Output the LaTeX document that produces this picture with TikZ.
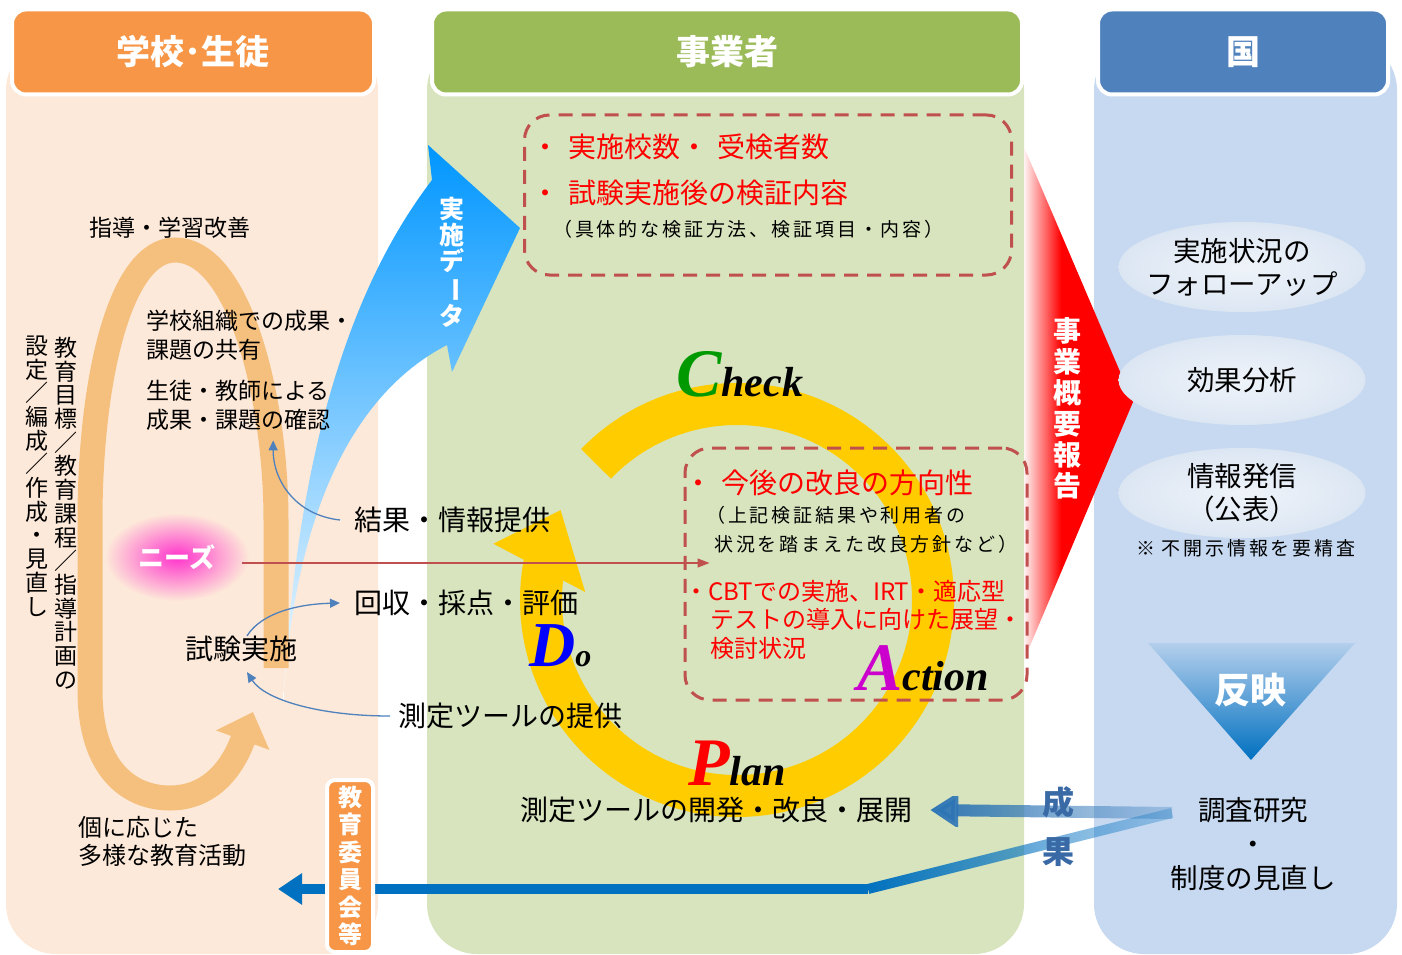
\documentclass[tikz,border=0pt]{standalone}
\usepackage{fontspec}
\setmainfont{Noto Sans CJK JP}
\newfontfamily\pdcafont{Liberation Serif}
\usetikzlibrary{arrows.meta, shapes.geometric, fadings}

\definecolor{colpeach}{HTML}{FDE9D9}
\definecolor{colgreen}{HTML}{D7E4BD}
\definecolor{colblue}{HTML}{C6D9F1}
\definecolor{hdrorange}{HTML}{F79646}
\definecolor{hdrgreen}{HTML}{9BBB59}
\definecolor{hdrblue}{HTML}{4F81BD}
\definecolor{dashred}{HTML}{C0504D}
\definecolor{cycleyellow}{HTML}{FFCC00}
\definecolor{bandorange}{HTML}{F5C07E}
\definecolor{datablue}{HTML}{0096FF}
\definecolor{linkblue}{HTML}{4F81BD}
\definecolor{seikablue}{HTML}{2E75B6}
\definecolor{kekkablue}{HTML}{0070C0}
\definecolor{seikatext}{HTML}{3A6AA6}
\definecolor{needspink}{HTML}{FF33CC}
\definecolor{ellfill}{HTML}{DCE6F3}
\definecolor{haneitop}{HTML}{B4CFEC}
\definecolor{checkgreen}{HTML}{009900}
\definecolor{doblue}{HTML}{0000FF}
\definecolor{actmagenta}{HTML}{CC00CC}

\newcommand{\fsz}[2]{\fontsize{#1}{#2}\selectfont}
\tikzfading[name=seikafade, left color=transparent!0, right color=transparent!75]
\pgfdeclarehorizontalshading{hokokushade}{100bp}{color(0bp)=(red!5); color(25bp)=(red!5); color(42bp)=(red); color(100bp)=(red)}

\begin{document}
\begin{tikzpicture}[x=1pt, y=1pt,
    hdr/.style={draw=white, line width=4pt, rounded corners=14pt, minimum height=85pt, text=white, font=\bfseries\fsz{34}{40}},
    txt/.style={inner sep=0pt, align=left, font=\fsz{28}{33}},
    sml/.style={inner sep=0pt, align=left, font=\fsz{23}{29}},
    note/.style={inner sep=0pt, align=left, font=\fsz{19}{29}\addfontfeature{LetterSpace=15}},
    redtxt/.style={inner sep=0pt, align=left, text=red, font=\fsz{28}{33}},
    vtxt/.style={inner sep=0pt, align=center},
    dashbox/.style={draw=dashred, line width=3pt, dash pattern=on 14pt off 9pt, rounded corners=25pt},
    link/.style={draw=linkblue, line width=1.3pt, -{Triangle[length=10pt,width=9pt]}},
    pdca/.style={inner sep=0pt, anchor=base west, font=\pdcafont\bfseries\itshape},
    oval/.style={ellipse, minimum width=247pt, minimum height=90pt, inner color=white!55!ellfill, outer color=ellfill, align=center, inner sep=0pt, font=\fsz{27.5}{33}}]

    \useasboundingbox (0,0) rectangle (1402,-955);

    \fill[colpeach, rounded corners=50pt] (6,-40) rectangle (378,-954);
    \fill[colgreen, rounded corners=50pt] (427,-40) rectangle (1024,-954);
    \fill[colblue, rounded corners=50pt] (1094,-40) rectangle (1397,-954);

    \node[hdr, fill=hdrorange, minimum width=362pt] (hschool) at (193,-52) {学校･生徒};
    \node[hdr, fill=hdrgreen, minimum width=590pt] (hbiz) at (727,-52) {事業者};
    \node[hdr, fill=hdrblue, minimum width=290pt] (hkuni) at (1243,-52) {国};

    \shade[shading=hokokushade] (1024,-147) -- (1133,-402) -- (1024,-660) -- cycle;
    \node[vtxt, text=white, font=\bfseries\fsz{28}{31}] (hokoku) at (1067,-408) {事\\業\\概\\要\\報\\告};

    \shade[top color=datablue, middle color=datablue!45, bottom color=white]
        (283,-705) .. controls (295,-480) and (340,-300) .. (432,-180) -- (428,-145) -- (520,-228) -- (452,-372)
        -- (447,-345) .. controls (360,-390) and (295,-500) .. (283,-705) -- cycle;
    \node[vtxt, text=white, font=\bfseries\fsz{25}{26}] (jisshi) at (452,-262) {実\\施\\デ\\\rotatebox[origin=c]{-90}{ー}\\タ};

    \draw[bandorange, line width=25pt, -{Triangle[length=30pt, width=55pt]}] (276,-668) -- (276,-520)
        .. controls (276,-400) and (240,-250) .. (175,-250) .. controls (120,-250) and (90,-380) .. (90,-520)
        -- (90,-690) .. controls (90,-770) and (130,-798) .. (170,-798) .. controls (205,-798) and (230,-775) .. (253,-712);

    \shade[inner color=needspink, outer color=colpeach] (177,-557) ellipse[x radius=72pt, y radius=44pt];
    \node[inner sep=0pt, text=white, font=\bfseries\fsz{26}{30}] (needs) at (177,-557) {ニーズ};

    \draw[cycleyellow, line width=42pt] (737,-600) ++(136:196) arc[start angle=136, end angle=-192, radius=196];
    \begin{scope}[shift={(737,-600)}]
        \fill[cycleyellow] (167:250) -- (153:198) -- (177:152) -- cycle;
    \end{scope}

    \node[dashbox, minimum width=487pt, minimum height=160pt] (box1) at (768,-195) {};
    \node[dashbox, minimum width=342pt, minimum height=252pt] (box2) at (856,-574) {};

    \node[redtxt, anchor=west] (b1a) at (531,-147) {・\hspace{9pt}実施校数・\hspace{9pt}受検者数};
    \node[redtxt, anchor=west] (b1b) at (531,-193) {・\hspace{9pt}試験実施後の検証内容};
    \node[note, anchor=west] (b1c) at (553,-229) {（具体的な検証方法、検証項目・内容）};

    \node[redtxt, anchor=west] (b2a) at (684,-483) {・\hspace{9pt}今後の改良の方向性};
    \node[note, anchor=west] (b2b) at (706,-530) {（上記検証結果や利用者の\\\hspace{8pt}状況を踏まえた改良方針など）};
    \node[redtxt, anchor=west, font=\fsz{24}{29}] (b2d) at (684,-591) {・CBTでの実施、IRT・適応型};
    \node[redtxt, anchor=west, font=\fsz{24}{29}] (b2e) at (710,-634) {テストの導入に向けた展望・\\検討状況};

    \node[pdca] (check) at (676,-396) {\textcolor{checkgreen}{\fsz{68}{68}C}\fsz{42}{42}heck};
    \node[pdca] (do) at (529,-666) {\textcolor{doblue}{\fsz{64}{64}D}\fsz{32}{32}o};
    \node[pdca] (action) at (857,-690) {\textcolor{actmagenta}{\fsz{68}{68}A}\fsz{42}{42}ction};
    \node[pdca] (plan) at (688,-785) {\textcolor{red}{\fsz{68}{68}P}\fsz{42}{42}lan};

    \node[sml, anchor=west] (kaizen) at (89,-228) {指導・学習改善};
    \node[sml, anchor=west] (kyoyu) at (146,-335) {学校組織での成果・\\課題の共有};
    \node[sml, anchor=west] (kakunin) at (146,-405) {生徒・教師による\\成果・課題の確認};
    \node[sml, anchor=west, font=\fsz{24}{28}] (kobetsu) at (78,-841) {個に応じた\\多様な教育活動};
    \node[vtxt, font=\fsz{23}{23.7}] (mokuhyo) at (66,-513) {教\\育\\目\\標\\／\\教\\育\\課\\程\\／\\指\\導\\計\\画\\の};
    \node[vtxt, font=\fsz{23}{23.7}] (settei) at (37,-476) {設\\定\\／\\編\\成\\／\\作\\成\\・\\見\\直\\し};
    \node[txt] (shiken) at (241,-649) {試験実施};

    \node[txt, anchor=west] (kekka) at (354,-520) {結果・情報提供};
    \node[txt, anchor=west] (kaishu) at (354,-603) {回収・採点・評価};
    \node[txt, anchor=west] (teikyo) at (398,-716) {測定ツールの提供};
    \node[txt] (kaihatsu) at (716,-810) {測定ツールの開発・改良・展開};

    \draw[dashred, line width=1.2pt, -{Triangle[length=12pt,width=9pt]}] ([shift={(26pt,-6pt)}]needs.east) -- ([shift={(26pt,-6pt)}]needs.east -| box2.west);
    \draw[link] ([xshift=6pt]shiken.north) .. controls (262,-612) and (300,-604) .. ([xshift=-14pt]kaishu.west);
    \draw[link] ([xshift=-14pt]kekka.west) .. controls (295,-515) and (273,-480) .. ([shift={(35pt,-10pt)}]kakunin.south);
    \draw[link] ([xshift=-8pt]teikyo.west) .. controls (320,-716) and (265,-700) .. ([shift={(6pt,-10pt)}]shiken.south);

    \node[oval, inner xsep=-10pt] (follow) at (1242,-267) {実施状況の\\フォローアップ};
    \node[oval] (bunseki) at (1242,-380) {効果分析};
    \node[oval] (hasshin) at (1242,-493) {情報発信\\（公表）};
    \node[note, font=\fsz{19}{22}\addfontfeature{LetterSpace=15}] (seisa) at (1246,-548) {※\hspace{6pt}不開示情報を要精査};

    \shade[top color=haneitop, middle color=kekkablue!90!white, bottom color=kekkablue] (1148,-643) -- (1355,-643) -- (1251,-760) -- cycle;
    \node[inner sep=0pt, text=white, font=\bfseries\fsz{36}{40}] (hanei) at (1250,-690) {反映};
    \node[align=center, inner sep=0pt, font=\fsz{27.5}{34}] (chosa) at (1253,-844) {調査研究\\・\\制度の見直し};

    \coordinate (seikasrc) at (1172,-813);
    \coordinate (bend) at (868,-889);
    \coordinate (gakko) at (278,-889);
    \draw[seikablue, line width=12pt, path fading=seikafade, -{Triangle[length=28pt, width=34pt]}] (seikasrc) -- ([xshift=18pt]kaihatsu.east);
    \draw[kekkablue, line width=10pt, path fading=seikafade] (seikasrc) -- (bend);
    \draw[kekkablue, line width=10pt, -{Triangle[length=24pt, width=30pt]}] (bend) -- (gakko);
    \node[inner sep=0pt, align=center, text=seikatext, font=\bfseries\fsz{32}{49}] (seika) at (1058,-827) {成\\果};

    \node[vtxt, draw=white, line width=4pt, fill=hdrorange, rounded corners=8pt, minimum width=46pt, minimum height=172pt, text=white, font=\bfseries\fsz{24}{27.5}] (iinkai) at (350,-866) {教\\育\\委\\員\\会\\等};
\end{tikzpicture}
\end{document}
